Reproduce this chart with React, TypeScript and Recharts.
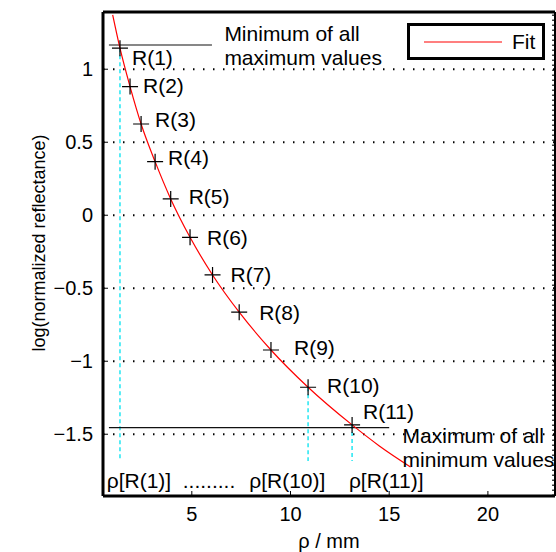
import React from 'react';
import {
  ComposedChart,
  Line,
  Scatter,
  XAxis,
  YAxis,
  CartesianGrid,
  ReferenceLine,
  ReferenceDot,
  Legend,
} from 'recharts';

// measured points R(1)..R(11): distance rho (mm) vs log(normalized reflectance)
const rho = [1.36, 1.87, 2.43, 3.14, 3.93, 4.91, 6.05, 7.4, 9.01, 10.89, 13.12];
const logR = [1.144, 0.881, 0.625, 0.367, 0.112, -0.151, -0.409, -0.664, -0.923, -1.178, -1.436];
const pointNames = ['R(1)', 'R(2)', 'R(3)', 'R(4)', 'R(5)', 'R(6)', 'R(7)', 'R(8)', 'R(9)', 'R(10)', 'R(11)'];

// red fit curve
const fitRho = [0.99, 1.36, 1.87, 2.43, 3.14, 3.93, 4.91, 6.05, 7.4, 9.01, 10.89, 13.12, 14.5, 16.08];
const fitLog = [1.372, 1.144, 0.881, 0.625, 0.367, 0.112, -0.151, -0.409, -0.664, -0.923, -1.178, -1.436, -1.58, -1.724];

const xTicks = [5, 10, 15, 20];
const yTicks = [-1.5, -1, -0.5, 0, 0.5, 1];

const minOfMax = 1.166;
const maxOfMin = -1.455;
const dropTo = -1.683;
const droppedPoints = [0, 9, 10];

const xDomain = [0.5, 23.4];
const yDomain = [-1.923, 1.392];

const FONT = '"Liberation Sans", Arial, Helvetica, sans-serif';

const pointData = rho.map((x, i) => ({ x, y: logR[i], name: pointNames[i], i }));
const fitData = fitRho.map((x, i) => ({ x, y: fitLog[i] }));

// pixel nudges of the R(n) labels
const labelNudge = [
  [12, 9], [13, -1], [14, -4], [13, -4], [18, -2], [17, 0],
  [18, 0], [20, 0], [23, -2], [19, -2], [11, -13],
];

const fmtY = (v: number) => (v < 0 ? '\u2212' + Math.abs(v) : String(v));

const Cross = (props: any) => {
  const { cx, cy, payload } = props;
  if (cx == null || cy == null) return null;
  const [dx, dy] = labelNudge[payload.i] || [14, -2];
  return (
    <g>
      <path d={`M${cx - 8},${cy}H${cx + 8}M${cx},${cy - 8}V${cy + 8}`} stroke="#000" strokeWidth={1.2} />
      <text x={cx + dx} y={cy + dy} dominantBaseline="central" fontSize={21} fontFamily={FONT} fill="#000">
        {payload.name}
      </text>
    </g>
  );
};

const textShape = (lines: string[]) => (p: any) => (
  <text x={p.cx} y={p.cy} fontSize={21} fontFamily={FONT} fill="#000">
    {lines.map((s, k) => (
      <tspan key={k} x={p.cx} dy={k === 0 ? 0 : 24}>
        {s}
      </tspan>
    ))}
  </text>
);

const FitLegend = () => (
  <div
    style={{
      boxSizing: 'border-box',
      width: 138,
      height: 37,
      border: '3px solid #000',
      background: '#fff',
      display: 'flex',
      alignItems: 'center',
      fontFamily: FONT,
      fontSize: 21,
      lineHeight: '21px',
    }}
  >
    <svg width={78} height={10} style={{ marginLeft: 14, flex: 'none' }}>
      <line x1={0} y1={5} x2={78} y2={5} stroke="#ff0000" strokeWidth={1.2} />
    </svg>
    <span style={{ marginLeft: 10 }}>Fit</span>
  </div>
);

export default function App() {
  return (
    <div style={{ position: 'absolute', left: 0, top: 0, width: 556, height: 552, background: '#fff' }}>
      <ComposedChart width={556} height={552} margin={{ top: 11, right: 0, bottom: 0, left: 0 }}>
        <CartesianGrid vertical={false} stroke="#000" strokeDasharray="1.5 8.5" strokeWidth={1.8} />
        <XAxis
          dataKey="x"
          type="number"
          domain={xDomain}
          ticks={xTicks}
          allowDataOverflow
          height={56}
          tickSize={-5}
          tickMargin={16}
          axisLine={{ stroke: '#000', strokeWidth: 3 }}
          tickLine={{ stroke: '#000' }}
          tick={{ fill: '#000', fontSize: 20, fontFamily: FONT }}
          label={{ value: '\u03c1 / mm', position: 'insideBottom', offset: 4, fill: '#000', fontSize: 20, fontFamily: FONT }}
        />
        <XAxis
          xAxisId="top"
          orientation="top"
          type="number"
          domain={xDomain}
          ticks={xTicks}
          allowDataOverflow
          height={1}
          tick={false}
          tickSize={-5}
          axisLine={{ stroke: '#000', strokeWidth: 3 }}
          tickLine={{ stroke: '#000' }}
        />
        <YAxis
          dataKey="y"
          type="number"
          domain={yDomain}
          ticks={yTicks}
          allowDataOverflow
          width={103}
          tickSize={-5}
          tickMargin={15}
          tickFormatter={fmtY}
          axisLine={{ stroke: '#000', strokeWidth: 3 }}
          tickLine={{ stroke: '#000' }}
          tick={{ fill: '#000', fontSize: 20, fontFamily: FONT }}
          label={{
            value: 'log(normalized reflectance)',
            angle: -90,
            position: 'center',
            dx: -13,
            dy: -11,
            fill: '#000',
            fontSize: 18,
            fontFamily: FONT,
          }}
        />
        <YAxis
          yAxisId="right"
          orientation="right"
          type="number"
          domain={yDomain}
          ticks={yTicks}
          allowDataOverflow
          width={1}
          tick={false}
          tickSize={-5}
          axisLine={{ stroke: '#000', strokeWidth: 2 }}
          tickLine={{ stroke: '#000' }}
        />
        <ReferenceLine x={23.3} stroke="#000" strokeDasharray="1.5 3.5" strokeWidth={1.5} />
        {droppedPoints.map((k) => (
          <ReferenceLine
            key={k}
            segment={[{ x: rho[k], y: logR[k] }, { x: rho[k], y: dropTo }]}
            stroke="#22e6f2"
            strokeWidth={1.5}
            strokeDasharray="4 3"
          />
        ))}
        <ReferenceLine segment={[{ x: 0.8, y: minOfMax }, { x: 6.02, y: minOfMax }]} stroke="#111" strokeWidth={1.2} />
        <ReferenceLine segment={[{ x: 0.8, y: maxOfMin }, { x: 15.0, y: maxOfMin }]} stroke="#111" strokeWidth={1.2} />
        <Line
          data={fitData}
          dataKey="y"
          name="Fit"
          type="monotone"
          stroke="#ff0000"
          strokeWidth={1.2}
          dot={false}
          isAnimationActive={false}
        />
        <Scatter data={pointData} dataKey="y" shape={Cross} isAnimationActive={false} legendType="none" />
        <ReferenceDot x={6.65} y={1.193} r={1} shape={textShape(['Minimum of all', 'maximum values'])} />
        <ReferenceDot x={15.68} y={-1.56} r={1} shape={textShape(['Maximum of all', 'minimum values'])} />
        <ReferenceDot x={0.69} y={-1.868} r={1} shape={textShape(['\u03c1[R(1)]'])} />
        <ReferenceDot x={4.54} y={-1.868} r={1} shape={textShape(['.........'])} />
        <ReferenceDot x={7.91} y={-1.868} r={1} shape={textShape(['\u03c1[R(10)]'])} />
        <ReferenceDot x={12.96} y={-1.868} r={1} shape={textShape(['\u03c1[R(11)]'])} />
        <Legend
          layout="horizontal"
          verticalAlign="middle"
          align="center"
          content={() => <FitLegend />}
          wrapperStyle={{ position: 'absolute', left: 407, top: 23, width: 138, height: 37 }}
        />
      </ComposedChart>
    </div>
  );
}
